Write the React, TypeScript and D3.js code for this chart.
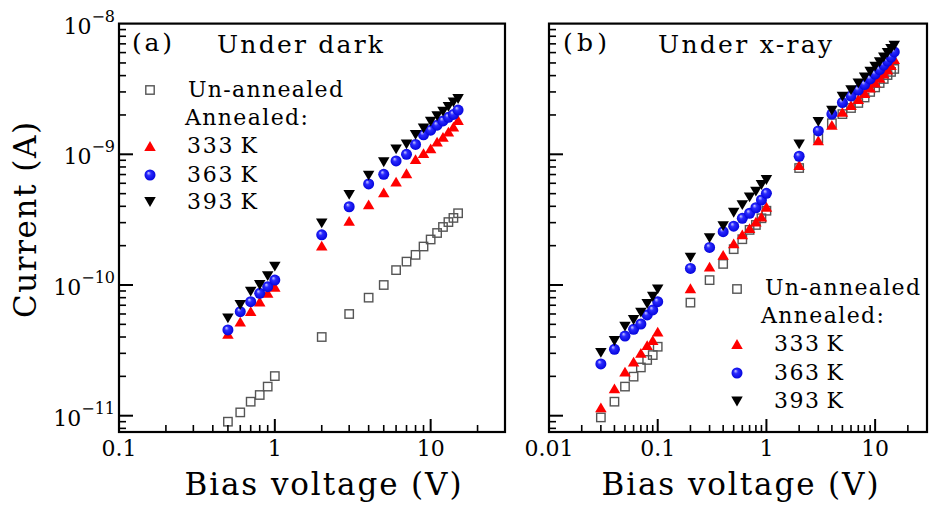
import React from "react";
import * as d3 from "d3";

// ---------- data ----------
const voltagesDark = [0.5, 0.6, 0.7, 0.8, 0.9, 1, 2, 3, 4, 5, 6, 7, 8, 9, 10, 11, 12, 13, 14, 15];
const darkUnannealed = [9.0e-12, 1.06e-11, 1.28e-11, 1.44e-11, 1.67e-11, 2.01e-11, 4.0e-11, 6.0e-11, 8.0e-11, 1.0e-10, 1.3e-10, 1.51e-10, 1.7e-10, 1.97e-10, 2.23e-10, 2.5e-10, 2.78e-10, 3.03e-10, 3.26e-10, 3.54e-10];
const dark333 = [4.22e-11, 5.24e-11, 6.32e-11, 7.48e-11, 8.69e-11, 9.7e-11, 2.0e-10, 3.09e-10, 4.14e-10, 5.12e-10, 6.17e-10, 7.16e-10, 9.2e-10, 1.02e-9, 1.11e-9, 1.25e-9, 1.36e-9, 1.49e-9, 1.63e-9, 1.83e-9];
const dark363 = [4.53e-11, 6.25e-11, 7.45e-11, 8.63e-11, 9.7e-11, 1.09e-10, 2.42e-10, 3.97e-10, 5.93e-10, 7.03e-10, 8.89e-10, 1.0e-9, 1.19e-9, 1.41e-9, 1.53e-9, 1.67e-9, 1.8e-9, 1.92e-9, 2.02e-9, 2.18e-9];
const dark393 = [5.56e-11, 7.03e-11, 8.89e-11, 1.0e-10, 1.17e-10, 1.38e-10, 2.96e-10, 4.89e-10, 6.86e-10, 8.69e-10, 1.09e-9, 1.19e-9, 1.41e-9, 1.58e-9, 1.78e-9, 1.96e-9, 2.12e-9, 2.31e-9, 2.5e-9, 2.65e-9];

const voltagesXray = [0.03, 0.04, 0.05, 0.06, 0.07, 0.08, 0.09, 0.1, 0.2, 0.3, 0.4, 0.5, 0.6, 0.7, 0.8, 0.9, 1, 2, 3, 4, 5, 6, 7, 8, 9, 10, 11, 12, 13, 14, 15];
const xrayUnannealed = [9.7e-12, 1.28e-11, 1.67e-11, 1.99e-11, 2.34e-11, 2.67e-11, 2.91e-11, 3.37e-11, 7.33e-11, 1.09e-10, 1.45e-10, 1.88e-10, 2.24e-10, 2.64e-10, 2.88e-10, 3.24e-10, 3.7e-10, 7.85e-10, 1.32e-9, 1.73e-9, 2.03e-9, 2.26e-9, 2.47e-9, 2.72e-9, 3.0e-9, 3.25e-9, 3.51e-9, 3.77e-9, 4.04e-9, 4.27e-9, 4.5e-9];
const xray333 = [1.16e-11, 1.62e-11, 2.17e-11, 2.59e-11, 3.03e-11, 3.47e-11, 3.79e-11, 4.4e-11, 9.44e-11, 1.38e-10, 1.7e-10, 2.08e-10, 2.44e-10, 2.72e-10, 3.05e-10, 3.33e-10, 3.97e-10, 8.28e-10, 1.28e-9, 1.68e-9, 2.11e-9, 2.38e-9, 2.65e-9, 2.94e-9, 3.24e-9, 3.54e-9, 3.84e-9, 4.15e-9, 4.45e-9, 4.82e-9, 5.36e-9];
const xray363 = [2.49e-11, 3.22e-11, 4.07e-11, 4.58e-11, 5.03e-11, 5.9e-11, 6.44e-11, 7.45e-11, 1.34e-10, 1.94e-10, 2.56e-10, 2.82e-10, 3.24e-10, 3.54e-10, 3.9e-10, 4.47e-10, 5.03e-10, 9.66e-10, 1.51e-9, 2.03e-9, 2.49e-9, 2.79e-9, 3.1e-9, 3.42e-9, 3.77e-9, 4.11e-9, 4.45e-9, 4.82e-9, 5.17e-9, 5.55e-9, 6.07e-9];
const xray393 = [3.03e-11, 3.73e-11, 4.8e-11, 5.4e-11, 6.14e-11, 7.16e-11, 8.13e-11, 9.27e-11, 1.62e-10, 2.28e-10, 2.82e-10, 3.57e-10, 4.09e-10, 4.69e-10, 5.18e-10, 5.82e-10, 6.36e-10, 1.19e-9, 1.77e-9, 2.16e-9, 2.76e-9, 3.1e-9, 3.49e-9, 3.88e-9, 4.28e-9, 4.68e-9, 5.06e-9, 5.52e-9, 5.98e-9, 6.39e-9, 6.77e-9];

const xTicksDark = [0.1, 1, 10];
const xTickLabelsDark = ["0.1", "1", "10"];
const xTicksXray = [0.01, 0.1, 1, 10];
const xTickLabelsXray = ["0.01", "0.1", "1", "10"];
const yTicks = [1e-8, 1e-9, 1e-10, 1e-11];
const yTickExponents = ["\u22128", "\u22129", "\u221210", "\u221211"];
const seriesLabels = ["Un-annealed", "333\u2009K", "363\u2009K", "393\u2009K"];
const annealedLabel = "Annealed:";

// ---------- layout ----------
const W = 934;
const H = 513;
const TOP = 23.6;
const BOTTOM = 432;
const DECADE = 130.7;
const FONT = "'DejaVu Serif', serif";

const yScale = d3
  .scaleLog()
  .domain([Math.pow(10, -8 - (BOTTOM - TOP) / DECADE), 1e-8])
  .range([BOTTOM, TOP]);

type MarkerKind = "square" | "up" | "ball" | "down";

function Marker({ kind, x, y }: { kind: MarkerKind; x: number; y: number }) {
  if (kind === "square") {
    const s = 8.4;
    return <rect x={x - s / 2} y={y - s / 2} width={s} height={s} fill="none" stroke="#555" strokeWidth={1.4} />;
  }
  if (kind === "ball") {
    return <circle cx={x} cy={y} r={5.5} fill="url(#sphere)" />;
  }
  const w = 11.5;
  const h = 9.8;
  if (kind === "up") {
    return <path d={`M${x},${y - h / 2}L${x - w / 2},${y + h / 2}L${x + w / 2},${y + h / 2}Z`} fill="#ff0000" />;
  }
  return <path d={`M${x},${y + h / 2}L${x - w / 2},${y - h / 2}L${x + w / 2},${y - h / 2}Z`} fill="#000" />;
}

interface LegendSpec {
  mx: number;
  rows: { y: number; tx: number; tb: number }[];
  annealed: { tx: number; tb: number };
  lengths: number[];
}

interface PanelProps {
  left: number;
  right: number;
  xMin: number;
  voltages: number[];
  series: number[][];
  xTicks: number[];
  xTickLabels: string[];
  showYLabels: boolean;
  tag: string;
  tagX: number;
  tagLen: number;
  title: string;
  titleX: number;
  titleLen: number;
  legend: LegendSpec;
  xLabelCenter: number;
}

const kinds: MarkerKind[] = ["square", "up", "ball", "down"];

function Panel(p: PanelProps) {
  const x = d3.scaleLog().domain([p.xMin, 30]).range([p.left, p.right]);
  const xAll = x.ticks();
  const yAll = yScale.ticks();
  const isMajor = (v: number) => Math.abs(Math.log10(v) - Math.round(Math.log10(v))) < 1e-6;
  return (
    <g>
      {/* data */}
      {p.series.map((vals, si) => (
        <g key={si}>
          {vals.map((v, i) => (
            <Marker key={i} kind={kinds[si]} x={x(p.voltages[i])} y={yScale(v)} />
          ))}
        </g>
      ))}
      {/* x ticks */}
      {xAll.map((t, i) => {
        const xx = x(t);
        if (xx > p.right - 1) return null;
        const len = isMajor(t) ? 13 : 7;
        return <line key={"xt" + i} x1={xx} x2={xx} y1={BOTTOM} y2={BOTTOM - len} stroke="#000" strokeWidth={isMajor(t) ? 2 : 1.6} />;
      })}
      {/* y ticks */}
      {yAll.map((t, i) => {
        const yy = yScale(t);
        if (yy < TOP + 1) return null;
        const len = isMajor(t) ? 14 : 7;
        return <line key={"yt" + i} x1={p.left} x2={p.left + len} y1={yy} y2={yy} stroke="#000" strokeWidth={isMajor(t) ? 2 : 1.6} />;
      })}
      {/* frame */}
      <rect x={p.left} y={TOP} width={p.right - p.left} height={BOTTOM - TOP} fill="none" stroke="#000" strokeWidth={2.2} />
      {/* x tick labels */}
      {p.xTicks.map((t, i) => (
        <text key={"xl" + i} x={x(t)} y={456} textAnchor="middle" fontSize={22} fontFamily={FONT} fill="#000">
          {p.xTickLabels[i]}
        </text>
      ))}
      {/* y tick labels */}
      {p.showYLabels &&
        yTicks.map((t, i) => (
          <text key={"yl" + i} x={p.left - 4} y={yScale(t) + 10} textAnchor="end" fontSize={22} fontFamily={FONT} fill="#000">
            10
            <tspan fontSize={16} dy={-12}>
              {yTickExponents[i]}
            </tspan>
          </text>
        ))}
      {/* x axis label */}
      <text x={p.xLabelCenter} y={495} textAnchor="middle" fontSize={31} fontFamily={FONT} textLength={277} lengthAdjust="spacing" fill="#000">
        Bias voltage (V)
      </text>
      {/* title */}
      <text x={p.tagX} y={51} fontSize={25} fontFamily={FONT} textLength={p.tagLen} lengthAdjust="spacing" fill="#000">
        {p.tag}
      </text>
      <text x={p.titleX} y={53} fontSize={25} fontFamily={FONT} textLength={p.titleLen} lengthAdjust="spacing" fill="#000">
        {p.title}
      </text>
      {/* legend */}
      {p.legend.rows.map((r, i) => (
        <g key={"lg" + i}>
          <Marker kind={kinds[i]} x={p.legend.mx} y={r.y} />
          <text x={r.tx} y={r.tb} fontSize={22} fontFamily={FONT} textLength={p.legend.lengths[i]} lengthAdjust="spacing" fill="#000">
            {seriesLabels[i]}
          </text>
        </g>
      ))}
      <text x={p.legend.annealed.tx} y={p.legend.annealed.tb} fontSize={22} fontFamily={FONT} textLength={123} lengthAdjust="spacing" fill="#000">
        {annealedLabel}
      </text>
    </g>
  );
}

export default function App() {
  return (
    <svg
      width={W}
      height={H}
      viewBox={`0 0 ${W} ${H}`}
      style={{ position: "absolute", left: 0, top: 0, display: "block", background: "#fff" }}
    >
      <defs>
        <radialGradient id="sphere" cx="50%" cy="50%" r="55%" fx="35%" fy="30%">
          <stop offset="0%" stopColor="#d0d0ff" />
          <stop offset="35%" stopColor="#2a2aff" />
          <stop offset="100%" stopColor="#0000d8" />
        </radialGradient>
      </defs>
      <rect x={0} y={0} width={W} height={H} fill="#fff" />
      <Panel
        left={119}
        right={505}
        xMin={0.1}
        voltages={voltagesDark}
        series={[darkUnannealed, dark333, dark363, dark393]}
        xTicks={xTicksDark}
        xTickLabels={xTickLabelsDark}
        showYLabels={true}
        tag="(a)"
        tagX={132}
        tagLen={40}
        title="Under dark"
        titleX={217}
        titleLen={166}
        xLabelCenter={323}
        legend={{
          mx: 150,
          rows: [
            { y: 90, tx: 188, tb: 97 },
            { y: 146, tx: 187, tb: 153 },
            { y: 175, tx: 187, tb: 182 },
            { y: 202, tx: 187, tb: 209 },
          ],
          annealed: { tx: 185, tb: 125 },
          lengths: [155, 70, 70, 70],
        }}
      />
      <Panel
        left={549}
        right={927}
        xMin={0.01}
        voltages={voltagesXray}
        series={[xrayUnannealed, xray333, xray363, xray393]}
        xTicks={xTicksXray}
        xTickLabels={xTickLabelsXray}
        showYLabels={false}
        tag="(b)"
        tagX={563}
        tagLen={44}
        title="Under x-ray"
        titleX={658}
        titleLen={174}
        xLabelCenter={740}
        legend={{
          mx: 737,
          rows: [
            { y: 289, tx: 765, tb: 295 },
            { y: 344, tx: 774, tb: 351 },
            { y: 373, tx: 774, tb: 379.5 },
            { y: 401.5, tx: 774, tb: 407.5 },
          ],
          annealed: { tx: 761, tb: 323 },
          lengths: [155, 69, 69, 69],
        }}
      />
      <text
        transform="translate(35.5,220) rotate(-90)"
        textAnchor="middle"
        fontSize={31}
        fontFamily={FONT}
        textLength={196}
        lengthAdjust="spacing"
        fill="#000"
      >
        Current (A)
      </text>
    </svg>
  );
}
